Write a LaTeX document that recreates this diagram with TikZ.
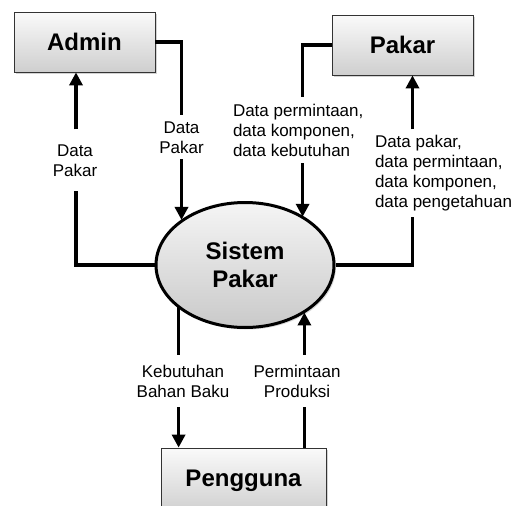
\documentclass[tikz,border=0pt]{standalone}
\usepackage{fontspec}
\setmainfont{Liberation Sans}
\usetikzlibrary{arrows.meta, shapes.geometric, shadows}

\begin{document}
\begin{tikzpicture}[x=1pt, y=-1pt,
    entity/.style={rectangle, draw=black!80, line width=0.8pt, top color=gray!4, bottom color=gray!38, minimum height=60pt, inner sep=0pt, font=\fontsize{24}{28}\selectfont\bfseries, drop shadow={shadow xshift=1.5pt, shadow yshift=-1.5pt, opacity=0.35}},
    process/.style={ellipse, draw=black, line width=3pt, top color=gray!8, bottom color=gray!42, minimum width=178pt, minimum height=125pt, inner sep=0pt, align=center, font=\fontsize{24}{28}\selectfont\bfseries, drop shadow={shadow xshift=2pt, shadow yshift=-2pt, opacity=0.3}},
    dataflow/.style={line width=3.5pt},
    dataarrow/.style={dataflow, -{Triangle[length=13pt, width=13pt]}},
    datalabel/.style={font=\fontsize{17}{20}\selectfont, inner sep=0pt, outer xsep=0pt, align=center}
]
\useasboundingbox (0,0) rectangle (517,506);

% Entities and process
\node[entity, minimum width=141pt] (admin) at (84.5,42) {Admin};
\node[entity, minimum width=141pt] (pakar) at (402.5,45) {Pakar};
\node[entity, minimum width=165pt, minimum height=66pt] (pengguna) at (243.5,481) {Pengguna};
\node[process] (sistem) at (245,265) {Sistem\\Pakar};

% Flow labels
\node[datalabel, outer ysep=15pt] (lblA) at (75,160.4) {Data\\Pakar};
\node[datalabel, outer ysep=6pt] (lblB) at (181.5,137.4) {Data\\Pakar};
\node[datalabel, align=left, anchor=west, outer ysep=7pt] (lblC) at (233,130) {Data permintaan,\\data komponen,\\data kebutuhan};
\node[datalabel, align=left, anchor=west, outer ysep=6pt] (lblD) at (375,173.2) {Data pakar,\\data permintaan,\\data komponen,\\data pengetahuan};
\node[datalabel, outer ysep=10pt] (lblE) at (183,381) {Kebutuhan\\Bahan Baku};
\node[datalabel, outer ysep=10pt] (lblF) at (297,381) {Permintaan\\Produksi};

% Columns of the vertical flows
\coordinate (ad) at ([xshift=-8.5pt]admin.south);
\coordinate (pc) at ([xshift=-29pt]pakar.west);
\coordinate (pk) at ([xshift=10pt]pakar.south);
\coordinate (pl) at ([xshift=18pt]pengguna.north west);
\coordinate (pr) at ([xshift=-22pt]pengguna.north east);

% Admin <-> Sistem
\draw[dataflow] (sistem.west) -| (ad |- lblA.south);
\draw[dataarrow] (ad |- lblA.north) -- (ad);
\draw[dataflow] (admin.east) -| (lblB.north);
\draw[dataarrow] (lblB.south) -- (lblB.south |- sistem.145);

% Pakar <-> Sistem
\draw[dataflow] (pakar.west) -| (pc |- lblC.north);
\draw[dataarrow] (pc |- lblC.south) -- (pc |- sistem.39);
\draw[dataflow] (sistem.east) -| (pk |- lblD.south);
\draw[dataarrow] (pk |- lblD.north) -- (pk);

% Pengguna <-> Sistem
\draw[dataflow] (pl |- sistem.212) -- (pl |- lblE.north);
\draw[dataarrow] (pl |- lblE.south) -- (pl);
\draw[dataflow] (pr) -- (pr |- lblF.south);
\draw[dataarrow] (pr |- lblF.north) -- (pr |- sistem.-38);

\end{tikzpicture}
\end{document}
